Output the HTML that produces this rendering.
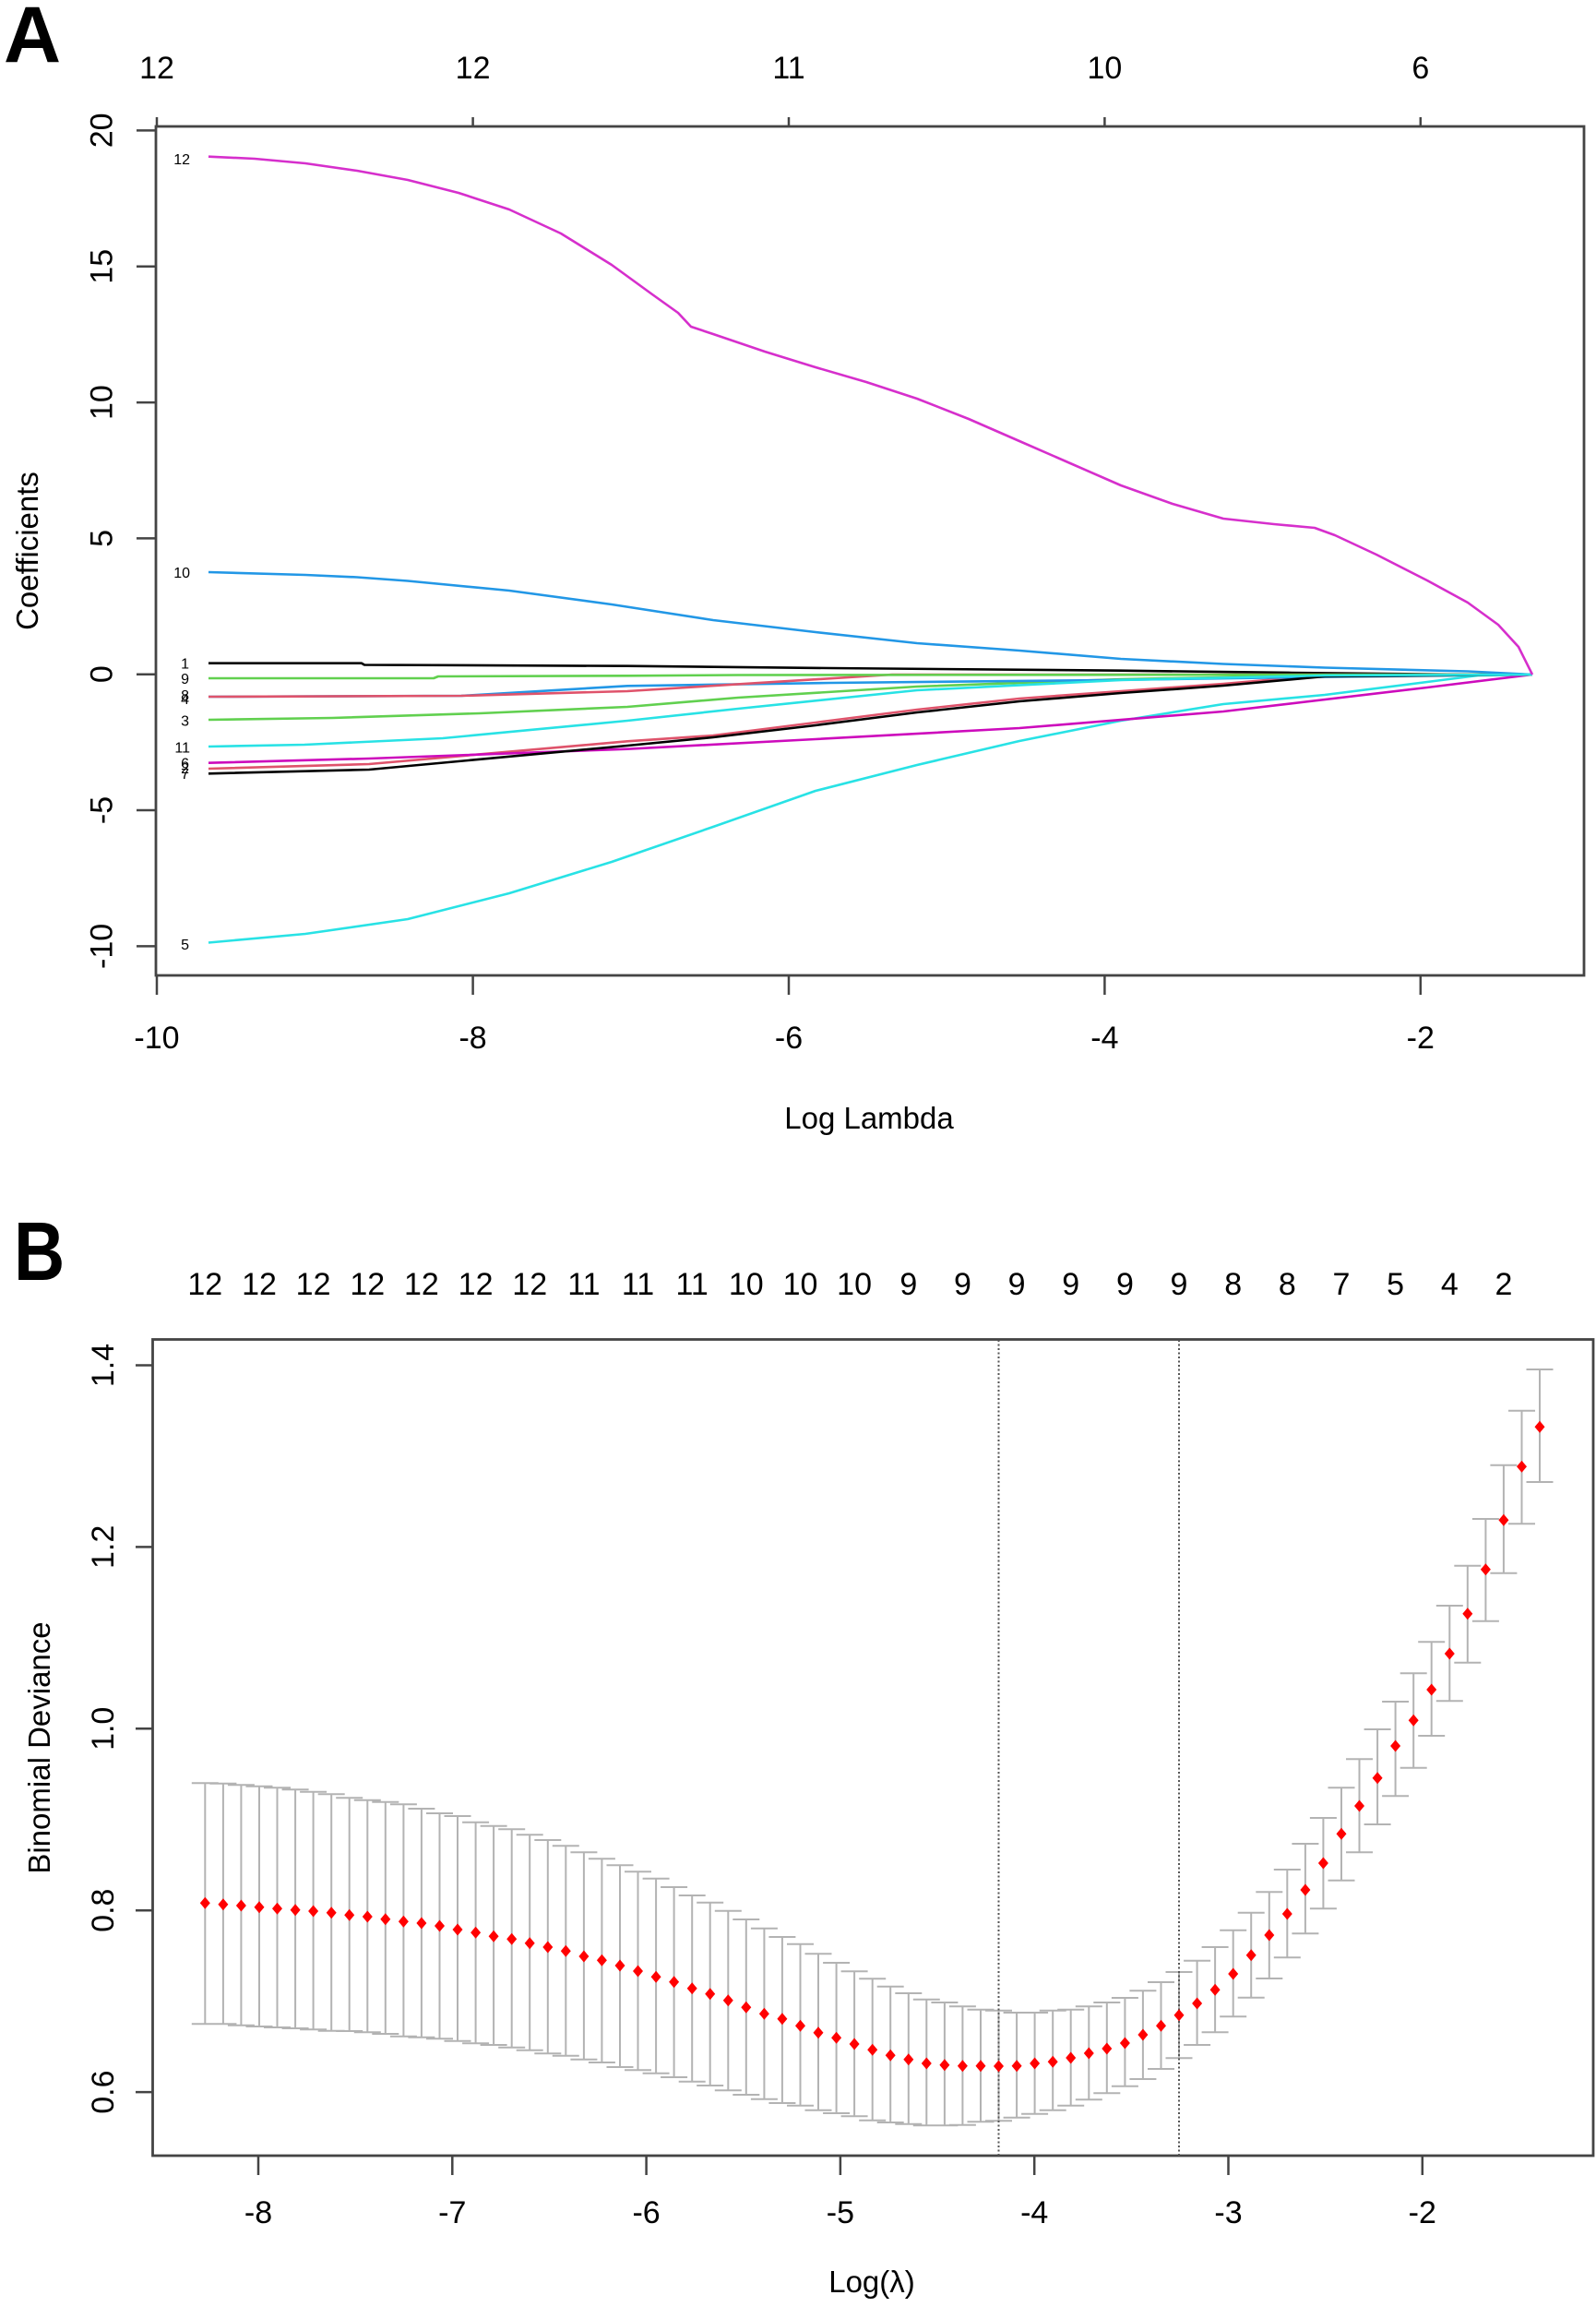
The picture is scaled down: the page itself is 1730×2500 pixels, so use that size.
<!DOCTYPE html>
<html>
<head>
<meta charset="utf-8">
<style>
html,body{margin:0;padding:0;background:#fff;}
svg{display:block;}
text{font-family:"Liberation Sans",Arial,sans-serif;fill:#000;}
</style>
</head>
<body>
<svg width="1730" height="2500" viewBox="0 0 1730 2500" xmlns="http://www.w3.org/2000/svg">
<rect x="0" y="0" width="1730" height="2500" fill="#fff"/>

<text x="4" y="67" font-size="86" font-weight="bold">A</text>
<g font-size="34" text-anchor="middle">
<text x="170" y="85">12</text>
<text x="512.6" y="85">12</text>
<text x="855" y="85">11</text>
<text x="1197.4" y="85">10</text>
<text x="1539.8" y="85">6</text>
</g>
<path d="M170 127V137M512.6 127V137M855 127V137M1197.4 127V137M1539.8 127V137" stroke="#444" stroke-width="2.5" fill="none"/>
<rect x="169" y="137" width="1548" height="920" fill="none" stroke="#444" stroke-width="2.8"/>
<path d="M170 1057V1078M512.6 1057V1078M855 1057V1078M1197.4 1057V1078M1539.8 1057V1078" stroke="#444" stroke-width="2.5" fill="none"/>
<g font-size="34" text-anchor="middle">
<text x="170" y="1136">-10</text>
<text x="512.6" y="1136">-8</text>
<text x="855" y="1136">-6</text>
<text x="1197.4" y="1136">-4</text>
<text x="1539.8" y="1136">-2</text>
</g>
<text x="942" y="1223" font-size="33" text-anchor="middle">Log Lambda</text>
<path d="M148 141.4H169M148 288.8H169M148 436.1H169M148 583.4H169M148 730.7H169M148 878H169M148 1025.4H169" stroke="#444" stroke-width="2.5" fill="none"/>
<g font-size="34" text-anchor="middle">
<text transform="translate(121.7,141.4) rotate(-90)">20</text>
<text transform="translate(121.7,288.8) rotate(-90)">15</text>
<text transform="translate(121.7,436.1) rotate(-90)">10</text>
<text transform="translate(121.7,583.4) rotate(-90)">5</text>
<text transform="translate(121.7,730.7) rotate(-90)">0</text>
<text transform="translate(121.7,878) rotate(-90)">-5</text>
<text transform="translate(121.7,1025.4) rotate(-90)">-10</text>
</g>
<text transform="translate(41,597) rotate(-90)" font-size="33" text-anchor="middle">Coefficients</text>

<g fill="none" stroke-width="2.6" stroke-linejoin="round">
<polyline stroke="#000" points="226,718.7 392,718.7 395,720.5 680,721.7 900,724 1215,726.7 1400,729 1591,731 1661,731"/>
<polyline stroke="#DF536B" points="226,833 400,828 680,803.3 773,797 884,783 994,769 1105,757 1215,749 1326,741 1436,731.5 1661,731"/>
<polyline stroke="#61D04F" points="226,780 360,778 520,773 680,766 800,756 994,744 1215,736 1436,732 1600,731 1661,731"/>
<polyline stroke="#2297E6" points="226,755 500,754 680,743.3 900,740 1200,737 1400,734 1661,731"/>
<polyline stroke="#28E2E5" points="226,1021.5 331,1012 442,996 552,968 663,934 773,896 884,857 994,829 1105,803 1215,781 1326,763 1436,753 1547,739 1602,732 1661,731"/>
<polyline stroke="#CD0BBC" points="226,826.7 400,822 680,811.7 884,801 1105,789 1326,771 1547,745 1661,731"/>
<polyline stroke="#000" points="226,838.3 400,834 680,808 773,799 884,786 994,772 1105,760 1215,751 1326,743 1436,733 1661,731"/>
<polyline stroke="#DF536B" points="226,755 500,754 680,749 967,731 1661,731"/>
<polyline stroke="#61D04F" points="226,735 470,735 475,733 680,732.3 800,731.5 1661,731"/>
<polyline stroke="#2297E6" points="226,620 331,623 387,625.5 442,629.5 552,640 663,655 773,672 884,685 994,697 1105,705 1215,714 1326,719.5 1436,723.5 1591,727.5 1661,731"/>
<polyline stroke="#28E2E5" points="226,809 330,807 480,800 680,781 800,768 994,748 1215,737 1436,732 1661,731"/>
<polyline stroke="#D62FCC" points="226,169.7 276,172 331,177 387,185 442,195 497,209 552,227 608,253 663,287 707,319 735,339 749,354 773,362 829,381 884,398 939,414 994,432 1050,454 1105,478 1160,502 1215,526 1271,546 1326,562 1381,568 1425,572 1447,580 1492,601 1547,629 1591,653 1624,677 1646,701 1661,731"/>
</g>
<g font-size="16" text-anchor="end">
<text x="206" y="178">12</text>
<text x="206" y="626">10</text>
<text x="205" y="724.5">1</text>
<text x="205" y="741">9</text>
<text x="205" y="759">8</text>
<text x="205" y="763">4</text>
<text x="205" y="786.5">3</text>
<text x="206" y="815.5">11</text>
<text x="205" y="832.5">6</text>
<text x="205" y="838">2</text>
<text x="205" y="844">7</text>
<text x="205" y="1029">5</text>
</g>

<text transform="translate(15,1387) scale(0.85,1)" font-size="90" font-weight="bold">B</text>
<g font-size="34" text-anchor="middle">
<text x="222.3" y="1403">12</text>
<text x="281.0" y="1403">12</text>
<text x="339.6" y="1403">12</text>
<text x="398.3" y="1403">12</text>
<text x="456.9" y="1403">12</text>
<text x="515.6" y="1403">12</text>
<text x="574.2" y="1403">12</text>
<text x="632.9" y="1403">11</text>
<text x="691.5" y="1403">11</text>
<text x="750.2" y="1403">11</text>
<text x="808.8" y="1403">10</text>
<text x="867.5" y="1403">10</text>
<text x="926.1" y="1403">10</text>
<text x="984.8" y="1403">9</text>
<text x="1043.4" y="1403">9</text>
<text x="1102.1" y="1403">9</text>
<text x="1160.7" y="1403">9</text>
<text x="1219.4" y="1403">9</text>
<text x="1278.0" y="1403">9</text>
<text x="1336.7" y="1403">8</text>
<text x="1395.3" y="1403">8</text>
<text x="1454.0" y="1403">7</text>
<text x="1512.6" y="1403">5</text>
<text x="1571.3" y="1403">4</text>
<text x="1629.9" y="1403">2</text>
</g>
<rect x="165.5" y="1451.5" width="1561.5" height="884.5" fill="none" stroke="#444" stroke-width="2.8"/>
<path d="M147 1479.5H165.5M147 1676.4H165.5M147 1873.3H165.5M147 2070.2H165.5M147 2267.1H165.5" stroke="#444" stroke-width="2.5" fill="none"/>
<g font-size="34" text-anchor="middle">
<text transform="translate(123,1479.5) rotate(-90)">1.4</text>
<text transform="translate(123,1676.4) rotate(-90)">1.2</text>
<text transform="translate(123,1873.3) rotate(-90)">1.0</text>
<text transform="translate(123,2070.2) rotate(-90)">0.8</text>
<text transform="translate(123,2267.1) rotate(-90)">0.6</text>
</g>
<text transform="translate(54,1894) rotate(-90)" font-size="33" text-anchor="middle">Binomial Deviance</text>
<path d="M280 2336V2357M490.3 2336V2357M700.6 2336V2357M910.9 2336V2357M1121.2 2336V2357M1331.5 2336V2357M1541.8 2336V2357" stroke="#444" stroke-width="2.5" fill="none"/>
<g font-size="34" text-anchor="middle">
<text x="280" y="2409">-8</text>
<text x="490.3" y="2409">-7</text>
<text x="700.6" y="2409">-6</text>
<text x="910.9" y="2409">-5</text>
<text x="1121.2" y="2409">-4</text>
<text x="1331.5" y="2409">-3</text>
<text x="1541.8" y="2409">-2</text>
</g>
<text x="945" y="2484" font-size="33" text-anchor="middle">Log(λ)</text>

<path fill="none" stroke="#b3b3b3" stroke-width="2" d="M222.3 1932.3V2193.3M207.8 1932.3h29M207.8 2193.3h29M241.9 1932.7V2193.3M227.4 1932.7h29M227.4 2193.3h29M261.4 1934.3V2194.7M246.9 1934.3h29M246.9 2194.7h29M281.0 1935.7V2196M266.5 1935.7h29M266.5 2196h29M300.5 1937.3V2197M286.0 1937.3h29M286.0 2197h29M320.1 1939.3V2198M305.6 1939.3h29M305.6 2198h29M339.6 1941.7V2199.3M325.1 1941.7h29M325.1 2199.3h29M359.2 1944.3V2200.7M344.7 1944.3h29M344.7 2200.7h29M378.7 1948.3V2201M364.2 1948.3h29M364.2 2201h29M398.3 1950.7V2202.3M383.8 1950.7h29M383.8 2202.3h29M417.8 1952.7V2204M403.3 1952.7h29M403.3 2204h29M437.4 1955.3V2206.7M422.9 1955.3h29M422.9 2206.7h29M456.9 1960V2207.7M442.4 1960h29M442.4 2207.7h29M476.5 1965V2209.3M462.0 1965h29M462.0 2209.3h29M496.0 1968V2211.7M481.5 1968h29M481.5 2211.7h29M515.6 1974.7V2214.3M501.1 1974.7h29M501.1 2214.3h29M535.1 1978.7V2216M520.6 1978.7h29M520.6 2216h29M554.7 1982.3V2218.7M540.2 1982.3h29M540.2 2218.7h29M574.2 1988.3V2221.7M559.7 1988.3h29M559.7 2221.7h29M593.8 1994V2225.3M579.3 1994h29M579.3 2225.3h29M613.3 2000.3V2227.7M598.8 2000.3h29M598.8 2227.7h29M632.9 2007.3V2231.7M618.4 2007.3h29M618.4 2231.7h29M652.4 2014.3V2235M637.9 2014.3h29M637.9 2235h29M672.0 2021.3V2240M657.5 2021.3h29M657.5 2240h29M691.5 2028.3V2243.3M677.0 2028.3h29M677.0 2243.3h29M711.1 2035.7V2246.7M696.6 2035.7h29M696.6 2246.7h29M730.6 2045V2251M716.1 2045h29M716.1 2251h29M750.2 2054V2255.7M735.7 2054h29M735.7 2255.7h29M769.7 2061.7V2260M755.2 2061.7h29M755.2 2260h29M789.3 2070.7V2265.3M774.8 2070.7h29M774.8 2265.3h29M808.8 2080V2270M794.3 2080h29M794.3 2270h29M828.4 2089.7V2274.7M813.9 2089.7h29M813.9 2274.7h29M847.9 2099V2279M833.4 2099h29M833.4 2279h29M867.5 2106.7V2281.7M853.0 2106.7h29M853.0 2281.7h29M887.0 2117.3V2286.7M872.5 2117.3h29M872.5 2286.7h29M906.6 2127V2290M892.1 2127h29M892.1 2290h29M926.1 2136.3V2293.3M911.6 2136.3h29M911.6 2293.3h29M945.7 2144.3V2297.7M931.2 2144.3h29M931.2 2297.7h29M965.2 2152.7V2300M950.7 2152.7h29M950.7 2300h29M984.8 2160V2301.7M970.3 2160h29M970.3 2301.7h29M1004.3 2166.7V2303.3M989.8 2166.7h29M989.8 2303.3h29M1023.9 2170V2303.3M1009.4 2170h29M1009.4 2303.3h29M1043.4 2174.3V2302.7M1028.9 2174.3h29M1028.9 2302.7h29M1063.0 2177.7V2299.3M1048.5 2177.7h29M1048.5 2299.3h29M1082.5 2178.7V2298.3M1068.0 2178.7h29M1068.0 2298.3h29M1102.1 2181V2294.7M1087.6 2181h29M1087.6 2294.7h29M1121.6 2181V2290.7M1107.1 2181h29M1107.1 2290.7h29M1141.2 2178.7V2286.7M1126.7 2178.7h29M1126.7 2286.7h29M1160.7 2177.7V2281.7M1146.2 2177.7h29M1146.2 2281.7h29M1180.3 2174.3V2275.3M1165.8 2174.3h29M1165.8 2275.3h29M1199.8 2170V2268.3M1185.3 2170h29M1185.3 2268.3h29M1219.4 2165V2260.7M1204.9 2165h29M1204.9 2260.7h29M1238.9 2157.3V2253M1224.4 2157.3h29M1224.4 2253h29M1258.5 2148V2242M1244.0 2148h29M1244.0 2242h29M1278.0 2137V2230.3M1263.5 2137h29M1263.5 2230.3h29M1297.6 2124.7V2216M1283.1 2124.7h29M1283.1 2216h29M1317.1 2110V2202.3M1302.6 2110h29M1302.6 2202.3h29M1336.7 2091.7V2185.3M1322.2 2091.7h29M1322.2 2185.3h29M1356.2 2072.7V2164.7M1341.7 2072.7h29M1341.7 2164.7h29M1375.8 2050.3V2144M1361.3 2050.3h29M1361.3 2144h29M1395.3 2026V2121.3M1380.8 2026h29M1380.8 2121.3h29M1414.9 1998V2095.3M1400.4 1998h29M1400.4 2095.3h29M1434.4 1970V2068.3M1419.9 1970h29M1419.9 2068.3h29M1454.0 1937.3V2037.7M1439.5 1937.3h29M1439.5 2037.7h29M1473.5 1906.3V2007.3M1459.0 1906.3h29M1459.0 2007.3h29M1493.1 1874V1977M1478.6 1874h29M1478.6 1977h29M1512.6 1844V1946.3M1498.1 1844h29M1498.1 1946.3h29M1532.2 1813.3V1915.7M1517.7 1813.3h29M1517.7 1915.7h29M1551.7 1779.3V1881M1537.2 1779.3h29M1537.2 1881h29M1571.3 1740V1843.3M1556.8 1740h29M1556.8 1843.3h29M1590.8 1696.7V1801.7M1576.3 1696.7h29M1576.3 1801.7h29M1610.4 1646V1756.7M1595.9 1646h29M1595.9 1756.7h29M1629.9 1587.7V1704.7M1615.4 1587.7h29M1615.4 1704.7h29M1649.5 1528.7V1651.3M1635.0 1528.7h29M1635.0 1651.3h29M1669.0 1484V1606M1654.5 1484h29M1654.5 1606h29"/>

<path d="M1082.5 1452V2336M1278 1452V2336" stroke="#555" stroke-width="2" stroke-dasharray="2 2.5" fill="none"/>

<path fill="#ff0000" d="M222.3 2055.8l5.5 6.5l-5.5 6.5l-5.5-6.5zM241.9 2057.2l5.5 6.5l-5.5 6.5l-5.5-6.5zM261.4 2058.5l5.5 6.5l-5.5 6.5l-5.5-6.5zM281.0 2060.2l5.5 6.5l-5.5 6.5l-5.5-6.5zM300.5 2061.8l5.5 6.5l-5.5 6.5l-5.5-6.5zM320.1 2063.2l5.5 6.5l-5.5 6.5l-5.5-6.5zM339.6 2064.5l5.5 6.5l-5.5 6.5l-5.5-6.5zM359.2 2066.2l5.5 6.5l-5.5 6.5l-5.5-6.5zM378.7 2068.8l5.5 6.5l-5.5 6.5l-5.5-6.5zM398.3 2070.5l5.5 6.5l-5.5 6.5l-5.5-6.5zM417.8 2073.2l5.5 6.5l-5.5 6.5l-5.5-6.5zM437.4 2075.8l5.5 6.5l-5.5 6.5l-5.5-6.5zM456.9 2077.5l5.5 6.5l-5.5 6.5l-5.5-6.5zM476.5 2080.5l5.5 6.5l-5.5 6.5l-5.5-6.5zM496.0 2084.5l5.5 6.5l-5.5 6.5l-5.5-6.5zM515.6 2087.8l5.5 6.5l-5.5 6.5l-5.5-6.5zM535.1 2091.8l5.5 6.5l-5.5 6.5l-5.5-6.5zM554.7 2094.8l5.5 6.5l-5.5 6.5l-5.5-6.5zM574.2 2099.2l5.5 6.5l-5.5 6.5l-5.5-6.5zM593.8 2103.5l5.5 6.5l-5.5 6.5l-5.5-6.5zM613.3 2107.8l5.5 6.5l-5.5 6.5l-5.5-6.5zM632.9 2113.5l5.5 6.5l-5.5 6.5l-5.5-6.5zM652.4 2117.8l5.5 6.5l-5.5 6.5l-5.5-6.5zM672.0 2123.5l5.5 6.5l-5.5 6.5l-5.5-6.5zM691.5 2129.5l5.5 6.5l-5.5 6.5l-5.5-6.5zM711.1 2135.8l5.5 6.5l-5.5 6.5l-5.5-6.5zM730.6 2141.2l5.5 6.5l-5.5 6.5l-5.5-6.5zM750.2 2148.2l5.5 6.5l-5.5 6.5l-5.5-6.5zM769.7 2154.2l5.5 6.5l-5.5 6.5l-5.5-6.5zM789.3 2161.2l5.5 6.5l-5.5 6.5l-5.5-6.5zM808.8 2168.8l5.5 6.5l-5.5 6.5l-5.5-6.5zM828.4 2175.8l5.5 6.5l-5.5 6.5l-5.5-6.5zM847.9 2181.2l5.5 6.5l-5.5 6.5l-5.5-6.5zM867.5 2188.8l5.5 6.5l-5.5 6.5l-5.5-6.5zM887.0 2196.2l5.5 6.5l-5.5 6.5l-5.5-6.5zM906.6 2201.8l5.5 6.5l-5.5 6.5l-5.5-6.5zM926.1 2208.5l5.5 6.5l-5.5 6.5l-5.5-6.5zM945.7 2214.8l5.5 6.5l-5.5 6.5l-5.5-6.5zM965.2 2220.8l5.5 6.5l-5.5 6.5l-5.5-6.5zM984.8 2225.2l5.5 6.5l-5.5 6.5l-5.5-6.5zM1004.3 2229.5l5.5 6.5l-5.5 6.5l-5.5-6.5zM1023.9 2231.2l5.5 6.5l-5.5 6.5l-5.5-6.5zM1043.4 2232.2l5.5 6.5l-5.5 6.5l-5.5-6.5zM1063.0 2232.2l5.5 6.5l-5.5 6.5l-5.5-6.5zM1082.5 2232.5l5.5 6.5l-5.5 6.5l-5.5-6.5zM1102.1 2232.2l5.5 6.5l-5.5 6.5l-5.5-6.5zM1121.6 2229.5l5.5 6.5l-5.5 6.5l-5.5-6.5zM1141.2 2227.8l5.5 6.5l-5.5 6.5l-5.5-6.5zM1160.7 2223.5l5.5 6.5l-5.5 6.5l-5.5-6.5zM1180.3 2218.5l5.5 6.5l-5.5 6.5l-5.5-6.5zM1199.8 2213.5l5.5 6.5l-5.5 6.5l-5.5-6.5zM1219.4 2207.5l5.5 6.5l-5.5 6.5l-5.5-6.5zM1238.9 2198.5l5.5 6.5l-5.5 6.5l-5.5-6.5zM1258.5 2188.8l5.5 6.5l-5.5 6.5l-5.5-6.5zM1278.0 2177.2l5.5 6.5l-5.5 6.5l-5.5-6.5zM1297.6 2164.5l5.5 6.5l-5.5 6.5l-5.5-6.5zM1317.1 2149.8l5.5 6.5l-5.5 6.5l-5.5-6.5zM1336.7 2132.5l5.5 6.5l-5.5 6.5l-5.5-6.5zM1356.2 2112.2l5.5 6.5l-5.5 6.5l-5.5-6.5zM1375.8 2090.5l5.5 6.5l-5.5 6.5l-5.5-6.5zM1395.3 2067.5l5.5 6.5l-5.5 6.5l-5.5-6.5zM1414.9 2041.5l5.5 6.5l-5.5 6.5l-5.5-6.5zM1434.4 2012.5l5.5 6.5l-5.5 6.5l-5.5-6.5zM1454.0 1980.8l5.5 6.5l-5.5 6.5l-5.5-6.5zM1473.5 1950.5l5.5 6.5l-5.5 6.5l-5.5-6.5zM1493.1 1920.2l5.5 6.5l-5.5 6.5l-5.5-6.5zM1512.6 1885.5l5.5 6.5l-5.5 6.5l-5.5-6.5zM1532.2 1857.8l5.5 6.5l-5.5 6.5l-5.5-6.5zM1551.7 1824.5l5.5 6.5l-5.5 6.5l-5.5-6.5zM1571.3 1785.5l5.5 6.5l-5.5 6.5l-5.5-6.5zM1590.8 1742.2l5.5 6.5l-5.5 6.5l-5.5-6.5zM1610.4 1694.2l5.5 6.5l-5.5 6.5l-5.5-6.5zM1629.9 1640.8l5.5 6.5l-5.5 6.5l-5.5-6.5zM1649.5 1582.8l5.5 6.5l-5.5 6.5l-5.5-6.5zM1669.0 1539.8l5.5 6.5l-5.5 6.5l-5.5-6.5z"/>
</svg>
</body>
</html>
